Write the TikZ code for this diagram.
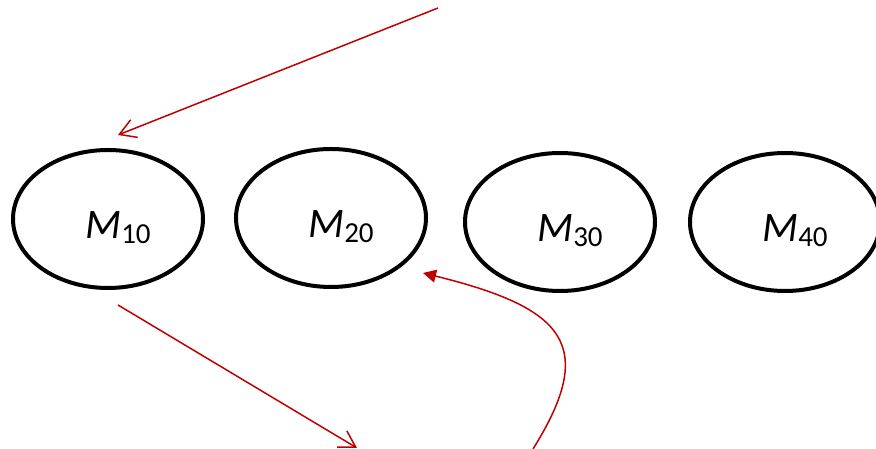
\documentclass[tikz,border=0pt]{standalone}
\usepackage{fontspec}
\setmainfont{Carlito}
\usetikzlibrary{shapes.geometric,arrows.meta}
\definecolor{arrowred}{RGB}{192,0,0}
\newcommand{\mlab}[1]{{\fontsize{42}{42}\selectfont\textit{M}\raisebox{-5pt}{\fontsize{29}{29}\selectfont #1}}}
\begin{document}
\begin{tikzpicture}[x=1pt,y=1pt,
  state/.style={ellipse,draw,line width=4pt,minimum width=190pt,minimum height=138pt,inner sep=0pt},
  statelabel/.style={inner sep=0pt},
  redline/.style={draw=arrowred,line width=1.5pt},
  barb/.style={-{Straight Barb[length=16pt,width=19pt,line width=1.5pt]}},
  solidtip/.style={-{Triangle[length=13pt,width=13pt]}}]
\useasboundingbox (0,0) rectangle (876,449);
\node[state] (m10) at (108,230) {};
\node[state] (m20) at (331,231) {};
\node[state] (m30) at (560,227) {};
\node[state] (m40) at (785,227) {};
\node[statelabel] (l10) at (118,221) {\mlab{10}};
\node[statelabel] (l20) at (341,222) {\mlab{20}};
\node[statelabel] (l30) at (570,218) {\mlab{30}};
\node[statelabel] (l40) at (795,218) {\mlab{40}};
\coordinate (top) at (438,441);
\coordinate (in10) at (118,314);
\coordinate (out10) at (118,144);
\coordinate (down) at (357,1);
\coordinate (up) at (533,0);
\coordinate (in20) at (423,176);
\draw[redline,barb] (top) -- (in10);
\draw[redline,barb] (out10) -- (down);
\draw[redline,solidtip] (up) .. controls (598,104) and (565,141) .. (in20);
\end{tikzpicture}
\end{document}
